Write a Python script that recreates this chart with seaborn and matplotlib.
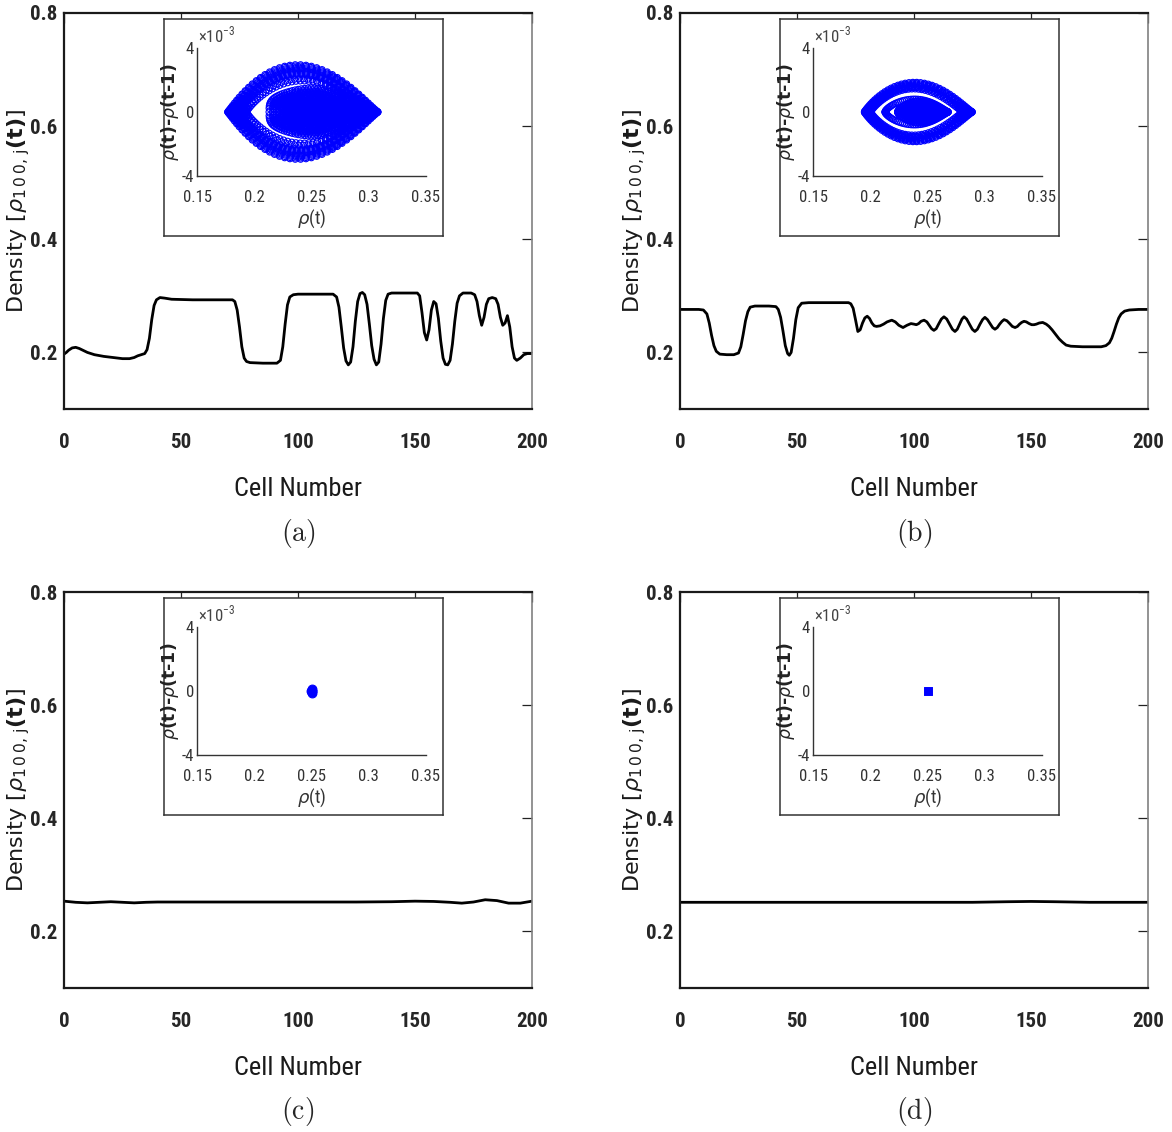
import os
import numpy as np
import matplotlib
matplotlib.use("Agg")
import matplotlib.pyplot as plt
from matplotlib import font_manager as fm
import seaborn as sns

# ---------------- data ----------------
# density profile along the ring road (cell number vs density) for the four cases
cells_a = [0, 1, 2, 3.5, 5, 6.5, 8, 10, 13, 17, 21, 25, 28, 30, 31.5, 33, 34.5, 35.5, 36.5, 37.5,
           38.5, 39.5, 41, 43, 46, 55, 65, 72, 73, 74, 75, 76, 77, 78, 79.5, 85, 91, 92.5, 93.5,
           94.5, 95.5, 96.5, 98, 100, 110, 115, 116.5, 117.5, 118.5, 119.5, 120.5, 121.5, 122.5,
           123.5, 124.5, 125.5, 126.5, 127.5, 128.5, 129.5, 130.5, 131.5, 132.5, 133.5, 134.5,
           135.5, 136.5, 137.5, 138.5, 140, 146, 151, 152, 153, 154, 155, 156, 157, 158, 159, 160,
           161, 162, 163, 164, 165, 166, 167, 168, 169, 170.5, 174, 175.5, 176.5, 177.5, 178.5,
           179.5, 180.5, 181.5, 183, 184.5, 185.5, 186.5, 187.5, 188.5, 189.5, 190.5, 191.5,
           192.5, 193.5, 195, 196.5, 198, 200]
density_a = [0.197, 0.200, 0.204, 0.208, 0.209, 0.207, 0.204, 0.200, 0.196, 0.193, 0.191, 0.189,
             0.189, 0.191, 0.194, 0.196, 0.198, 0.205, 0.225, 0.258, 0.283, 0.293, 0.297, 0.296,
             0.294, 0.293, 0.293, 0.293, 0.290, 0.275, 0.245, 0.210, 0.190, 0.184, 0.182, 0.181,
             0.181, 0.186, 0.210, 0.250, 0.284, 0.298, 0.302, 0.303, 0.303, 0.303, 0.298, 0.280,
             0.245, 0.208, 0.185, 0.178, 0.183, 0.210, 0.255, 0.290, 0.304, 0.306, 0.302, 0.285,
             0.250, 0.212, 0.188, 0.178, 0.183, 0.215, 0.260, 0.292, 0.303, 0.305, 0.305, 0.305,
             0.300, 0.270, 0.235, 0.222, 0.240, 0.275, 0.290, 0.286, 0.260, 0.220, 0.190, 0.179,
             0.178, 0.186, 0.215, 0.255, 0.287, 0.300, 0.305, 0.305, 0.302, 0.290, 0.265, 0.248,
             0.262, 0.285, 0.295, 0.297, 0.295, 0.285, 0.262, 0.248, 0.252, 0.265, 0.245, 0.210,
             0.190, 0.186, 0.190, 0.196, 0.198, 0.198]

cells_b = [0, 8, 10, 11.5, 12.5, 13.5, 14.5, 15.5, 17, 20, 23, 25, 26, 27, 28, 29, 30, 32, 38, 41,
           42, 43, 44, 45, 46, 46.7, 47.5, 48.5, 49.5, 50.5, 52, 55, 65, 72, 73,
           74, 75, 76, 77, 78, 79, 80, 81, 82, 83, 84, 85.5, 87, 88.5, 90.5, 92, 93.5, 95.3, 97,
           98.7, 100, 101, 102, 103, 104.3, 105.5, 106.5, 107.5, 108.5, 109.5, 110.5, 111.7,
           112.8, 114, 115.2, 116.4, 117.5, 118.5, 119.5, 120.5, 121.4, 122.5, 123.7, 124.9, 126,
           127.1, 128.2, 129.3, 130.3, 131.4, 132.5, 133.6, 134.6, 135.6, 136.6, 137.6, 138.5,
           139.7, 140.9, 142, 143.2, 144.2, 145.1, 146, 147, 148, 149.2, 150.3, 151.3, 152.3,
           153.5, 155, 156.5, 157.7, 159, 160.5, 162, 163.5, 165, 167, 172,
           180, 182, 183.5, 184.5, 185.5, 186.5, 187.5, 188.5, 190, 192, 196, 200]
density_b = [0.276, 0.276, 0.275, 0.268, 0.252, 0.230, 0.212, 0.202, 0.197, 0.196, 0.196, 0.199,
             0.210, 0.232, 0.256, 0.272, 0.280, 0.282, 0.282, 0.281, 0.276, 0.262, 0.238, 0.212,
             0.198, 0.195, 0.200, 0.225, 0.258, 0.279, 0.287, 0.288, 0.288, 0.288, 0.286,
             0.278, 0.258, 0.237, 0.240, 0.252, 0.261, 0.264, 0.260, 0.252, 0.247, 0.246, 0.247,
             0.250, 0.254, 0.257, 0.254, 0.248, 0.244, 0.248,
             0.251, 0.250, 0.249, 0.251, 0.255, 0.257, 0.254, 0.248, 0.242, 0.239, 0.242, 0.250,
             0.259, 0.263, 0.259, 0.250, 0.241, 0.237, 0.241, 0.250, 0.259, 0.263, 0.259, 0.250,
             0.241, 0.237, 0.241, 0.250, 0.258, 0.262, 0.258, 0.251, 0.244, 0.241, 0.244, 0.250,
             0.255, 0.258, 0.256, 0.251, 0.246, 0.244, 0.246, 0.250, 0.253, 0.255, 0.254, 0.251,
             0.249, 0.249, 0.250, 0.252, 0.253, 0.250, 0.246, 0.240, 0.232, 0.224, 0.218, 0.213,
             0.211, 0.210, 0.210, 0.212, 0.217, 0.225, 0.237, 0.250, 0.261, 0.268, 0.273, 0.275,
             0.276, 0.276]

cells_c = [0, 5, 10, 15, 20, 25, 30, 35, 40, 50, 75, 100, 125, 140, 150, 158, 165, 170, 175,
           180, 185, 190, 195, 200]
density_c = [0.2535, 0.2515, 0.2505, 0.2515, 0.2525, 0.2515, 0.2505, 0.2515, 0.2520, 0.2520,
             0.2520, 0.2520, 0.2520, 0.2525, 0.2535, 0.2530, 0.2515, 0.2500, 0.2520, 0.2560,
             0.2545, 0.2500, 0.2500, 0.2535]

cells_d = [0, 50, 100, 125, 140, 150, 160, 175, 200]
density_d = [0.2515, 0.2515, 0.2515, 0.2515, 0.2525, 0.2530, 0.2525, 0.2515, 0.2515]

# phase-space orbits of the density at cell 100: left tip, right tip, half height (x1e-3)
# and how pointed each end is (1 = rounded, 2 = sharp)
orbit_left_a = [0.177, 0.178, 0.179, 0.180, 0.181, 0.182, 0.183, 0.184, 0.185, 0.186,
                0.190, 0.193,
                0.213, 0.216, 0.219, 0.222, 0.225, 0.228, 0.231, 0.234, 0.237, 0.240, 0.243,
                0.246, 0.249]
orbit_right_a = [0.308, 0.307, 0.307, 0.306, 0.305, 0.304, 0.303, 0.302, 0.301, 0.300,
                 0.299, 0.298,
                 0.295, 0.294, 0.293, 0.291, 0.289, 0.287, 0.285, 0.283, 0.280, 0.277, 0.274,
                 0.271, 0.267]
orbit_height_a = [2.95, 2.87, 2.79, 2.72, 2.65, 2.58, 2.51, 2.45, 2.40, 2.35,
                  2.08, 1.95,
                  1.50, 1.38, 1.26, 1.14, 1.02, 0.91, 0.80, 0.69, 0.58, 0.47, 0.37, 0.27, 0.18]
orbit_tipl_a = [2.2] * 10 + [2.2, 2.0] + [0.7] * 13
orbit_tipr_a = [2.2] * 25

orbit_left_b = [0.195, 0.196, 0.197, 0.198, 0.199, 0.200,
                0.213, 0.224, 0.228, 0.232, 0.236, 0.240]
orbit_right_b = [0.289, 0.288, 0.287, 0.285, 0.283, 0.281,
                 0.268, 0.266, 0.265, 0.264, 0.263, 0.262]
orbit_height_b = [1.85, 1.77, 1.69, 1.61, 1.53, 1.45,
                  0.80, 0.68, 0.57, 0.46, 0.35, 0.24]
orbit_tipl_b = [2.0] * 6 + [1.6] * 6
orbit_tipr_b = [2.2] * 12

# fixed points of the homogeneous states
fixed_rho_c = [0.2497, 0.2500, 0.2503, 0.2500, 0.2500]
fixed_drho_c = [0.0, 0.0, 0.0, 0.12, -0.12]
fixed_rho_d = [0.2500, 0.2502]
fixed_drho_d = [0.0, 0.0]

x_ticks_main = [0, 50, 100, 150, 200]
y_ticks_main = [0.2, 0.4, 0.6, 0.8]
x_ticks_inset = [0.15, 0.2, 0.25, 0.3, 0.35]
x_ticklabels_inset = ["0.15", "0.2", "0.25", "0.3", "0.35"]
y_ticks_inset = [-4, -2, 0, 2, 4]
y_ticklabels_inset = ["-4", "", "0", "", "4"]
captions = ["(a)", "(b)", "(c)", "(d)"]


def orbit_points(left, right, height, tip_l, tip_r, n=90, skew=1.1):
    """Trace one closed orbit in (rho, delta rho) space."""
    th = np.linspace(0, 2 * np.pi, n, endpoint=False)
    c = np.cos(th)
    u = ((1 - c) / 2) ** skew
    x = left + (right - left) * u
    s = np.sin(th)
    expo = tip_l * (1 + c) / 2 + tip_r * (1 - c) / 2
    y = height * np.sign(s) * np.abs(s) ** expo
    return x, y


def orbit_cloud(lefts, rights, heights, tipl, tipr):
    xs, ys = [], []
    for l, r, h, a, b in zip(lefts, rights, heights, tipl, tipr):
        x, y = orbit_points(l, r, h, a, b)
        xs.append(x)
        ys.append(y)
    return np.concatenate(xs), np.concatenate(ys)


# ---------------- fonts ----------------
_font_files = fm.findSystemFonts()


def pick_font(names):
    lower = {os.path.basename(f).lower(): f for f in _font_files}
    for n in names:
        if n.lower() in lower:
            return lower[n.lower()]
    return None


bold_file = pick_font(["LiberationSansNarrow-Bold.ttf", "RobotoCondensed-Bold.ttf",
                       "DejaVuSansCondensed-Bold.ttf", "LiberationSans-Bold.ttf"])
reg_file = pick_font(["LiberationSansNarrow-Regular.ttf", "RobotoCondensed-Regular.ttf",
                      "DejaVuSansCondensed.ttf", "LiberationSans-Regular.ttf"])


def narrow(size, bold=False):
    f = bold_file if bold else reg_file
    if f is not None:
        return fm.FontProperties(fname=f, size=size)
    return fm.FontProperties(family="Liberation Sans", weight="bold" if bold else "normal",
                             size=size)


# ---------------- figure ----------------
sns.set_theme(style="white")
plt.rcParams["mathtext.fontset"] = "dejavusans"
plt.rcParams["font.family"] = ["DejaVu Sans"]

W, H = 1172, 1132
fig = plt.figure(figsize=(W / 100, H / 100), dpi=100)
fig.patch.set_facecolor("white")


def frac(l, t, r, b):
    return [l / W, 1 - b / H, (r - l) / W, (b - t) / H]


panels = [
    (cells_a, density_a, "a", 0, 0),
    (cells_b, density_b, "b", 616, 0),
    (cells_c, density_c, "c", 0, 579),
    (cells_d, density_d, "d", 616, 579),
]

for idx, (cx, dy, tag, ox, oy) in enumerate(panels):
    ax = fig.add_axes(frac(64 + ox, 13 + oy, 532 + ox, 409 + oy))
    sns.lineplot(x=cx, y=dy, ax=ax, color="black", linewidth=2.0)
    ax.set_xlim(0, 200)
    ax.set_ylim(0.1, 0.8)
    ax.set_xticks(x_ticks_main)
    ax.set_yticks(y_ticks_main)
    ax.set_xticklabels([str(v) for v in x_ticks_main], fontproperties=narrow(15, True))
    ax.set_yticklabels([f"{v:.1f}" for v in y_ticks_main], fontproperties=narrow(15, True))
    ax.tick_params(axis="both", which="both", direction="in", length=7, width=0.9,
                   top=True, right=True, color="#222222")
    ax.tick_params(axis="x", pad=17)
    ax.tick_params(axis="y", pad=5)
    for side in ["top", "bottom", "left"]:
        ax.spines[side].set_color("#1a1a1a")
        ax.spines[side].set_linewidth(1.6)
    ax.spines["right"].set_color("#808080")
    ax.spines["right"].set_linewidth(1.2)
    ax.set_xlabel("Cell Number", fontproperties=narrow(19), labelpad=18, color="#1a1a1a")
    ax.set_ylabel(r"Density [$\rho_{1\,0\,0,\,\mathrm{j}}$$\mathbf{(t)}$]", fontsize=16,
                  color="#1a1a1a")
    ax.yaxis.set_label_coords(-0.068, 0.5)
    ax.set_facecolor("white")

    # caption
    fig.text((298 + ox) / W, 1 - (533 + oy) / H, r"$\mathrm{" + captions[idx] + "}$",
             ha="center", va="center", fontsize=20, math_fontfamily="cm")

    # inset frame
    fr = fig.add_axes(frac(164 + ox, 19 + oy, 443 + ox, 236 + oy))
    fr.set_xticks([])
    fr.set_yticks([])
    fr.set_facecolor("white")
    for side in fr.spines:
        fr.spines[side].set_color("#333333")
        fr.spines[side].set_linewidth(1.1)

    ins = fig.add_axes(frac(197 + ox, 48 + oy, 426 + ox, 176 + oy))
    ins.set_facecolor("none")
    if tag == "a":
        px, py = orbit_cloud(orbit_left_a, orbit_right_a, orbit_height_a,
                             orbit_tipl_a, orbit_tipr_a)
        sns.scatterplot(x=px, y=py, ax=ins, marker="o", s=20, color="#0000ff",
                        facecolor="none", edgecolor="#0000ff", linewidth=0.8)
    elif tag == "b":
        px, py = orbit_cloud(orbit_left_b, orbit_right_b, orbit_height_b,
                             orbit_tipl_b, orbit_tipr_b)
        sns.scatterplot(x=px, y=py, ax=ins, marker="o", s=20, color="#0000ff",
                        facecolor="none", edgecolor="#0000ff", linewidth=0.8)
    elif tag == "c":
        sns.scatterplot(x=fixed_rho_c, y=fixed_drho_c, ax=ins, marker="o", s=40,
                        color="#0000ff", edgecolor="#0000ff", linewidth=0.8)
    else:
        sns.scatterplot(x=fixed_rho_d, y=fixed_drho_d, ax=ins, marker="s", s=30,
                        color="#0000ff", edgecolor="#0000ff", linewidth=0.5)
    ins.set_xlim(0.15, 0.35)
    ins.set_ylim(-4, 4)
    ins.set_xticks(x_ticks_inset)
    ins.set_xticklabels(x_ticklabels_inset, fontproperties=narrow(12), color="#333333")
    ins.set_yticks(y_ticks_inset)
    ins.set_yticklabels(y_ticklabels_inset, fontproperties=narrow(12), color="#333333")
    ins.tick_params(axis="both", direction="in", length=4, width=0.8, color="#333333",
                    top=False, right=False)
    ins.tick_params(axis="x", pad=10)
    ins.tick_params(axis="y", pad=2)
    ins.spines["top"].set_visible(False)
    ins.spines["right"].set_visible(False)
    for side in ["left", "bottom"]:
        ins.spines[side].set_color("#333333")
        ins.spines[side].set_linewidth(1.0)
    ins.set_xlabel(r"$\rho$(t)", fontproperties=narrow(13), color="#333333", labelpad=2)
    ins.set_ylabel(r"$\rho$(t)-$\rho$(t-1)", fontsize=12.5, fontweight="bold",
                   color="#222222")
    ins.yaxis.set_label_coords(-0.068, 0.5)
    ins.text(0.005, 1.02, r"×10$^{\mathregular{-3}}$", transform=ins.transAxes,
             fontproperties=narrow(12), color="#444444", ha="left", va="bottom")

fig.savefig("out.png", dpi=100, facecolor="white")
